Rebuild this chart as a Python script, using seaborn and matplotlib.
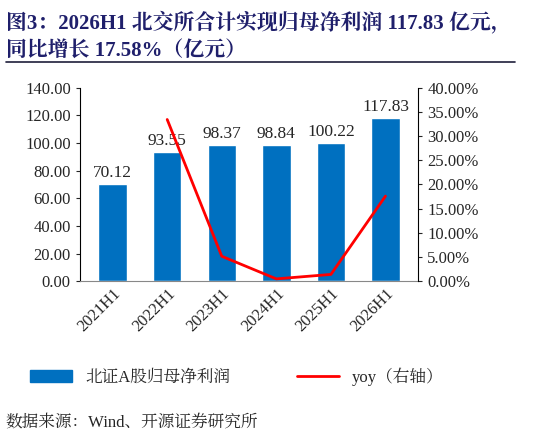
import matplotlib
matplotlib.use('Agg')
import matplotlib.pyplot as plt
import seaborn as sns
import pandas as pd
from matplotlib.lines import Line2D

periods = ['2021H1', '2022H1', '2023H1', '2024H1', '2025H1', '2026H1']
profit = [70.12, 93.55, 98.37, 98.84, 100.22, 117.83]
yoy = [None, 33.41, 5.15, 0.48, 1.40, 17.58]

sns.set_style('white')
fonts = ['Liberation Serif', 'Noto Serif CJK SC', 'Noto Sans CJK SC']
plt.rcParams['font.family'] = fonts

df = pd.DataFrame({'period': periods, 'profit': profit, 'yoy': yoy})

fig = plt.figure(figsize=(5.51, 4.38), dpi=100, facecolor='white')
ax = fig.add_axes([0.145, 0.358, 0.614, 0.442])
sns.barplot(data=df, x='period', y='profit', color='#0070C0', width=0.52,
            saturation=1, ax=ax)
for i, v in enumerate(profit):
    ax.text(i, v + 2, f'{v:.2f}', ha='center', va='bottom', fontsize=12.5)
ax.set_ylim(0, 140)
ax.set_yticks(range(0, 141, 20))
ax.set_yticklabels([f'{t:.2f}' for t in range(0, 141, 20)], fontsize=12)
ax.set_xlabel('')
ax.set_ylabel('')
ax.tick_params(axis='x', labelsize=12, rotation=45, length=0)
for lab in ax.get_xticklabels():
    lab.set_ha('right')
    lab.set_rotation_mode('anchor')
for s in ['top', 'right']:
    ax.spines[s].set_visible(False)
ax.spines['left'].set_color('black')
ax.spines['bottom'].set_color('#888888')
ax.tick_params(axis='y', length=3, direction='out', left=True)

ax2 = ax.twinx()
sns.lineplot(x=list(range(1, 6)), y=yoy[1:], color='#FF0000', linewidth=2, ax=ax2)
ax2.set_ylim(0, 40)
ax2.set_yticks(range(0, 41, 5))
ax2.set_yticklabels([f'{t:.2f}%' for t in range(0, 41, 5)], fontsize=12)
for s in ['top', 'left', 'bottom']:
    ax2.spines[s].set_visible(False)
ax2.spines['right'].set_color('black')
ax2.tick_params(axis='y', length=3, direction='out', right=True)
ax.set_xlim(-0.6, 5.6)

handles = [plt.Rectangle((0, 0), 1, 1, color='#0070C0'),
           Line2D([0], [0], color='#FF0000', linewidth=2)]
fig.legend(handles, ['北证A股归母净利润', 'yoy（右轴）'], loc='center',
           bbox_to_anchor=(0.43, 0.14), ncol=2, frameon=False, fontsize=12,
           columnspacing=4, handlelength=2.5)

fig.text(0.01, 0.975, '图3：2026H1 北交所合计实现归母净利润 117.83 亿元，', fontsize=15,
         fontweight='bold', color='#1F1F6B', va='top')
fig.text(0.01, 0.905, '同比增长 17.58%（亿元）', fontsize=15,
         fontweight='bold', color='#1F1F6B', va='top')
fig.add_artist(Line2D([0.01, 0.935], [0.858, 0.858], color='#1F1F3B', linewidth=1.2))
fig.text(0.01, 0.035, '数据来源：Wind、开源证券研究所', fontsize=12, va='center')

fig.savefig('out.png', dpi=100, facecolor='white')
